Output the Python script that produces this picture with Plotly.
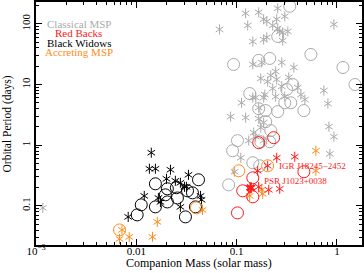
import plotly.graph_objects as go

# Classical MSP (gray)
msp_star_m = [0.257, 0.123, 0.166, 0.302, 0.186, 0.20, 0.251, 0.129, 0.229, 0.0676, 0.257, 0.269, 0.288, 0.324,
              0.145, 0.186, 0.20, 0.288, 0.933, 0.145, 0.178, 0.282, 0.372, 0.245, 0.219, 0.251, 0.204, 0.174,
              0.331, 0.229, 0.282, 0.407, 0.437, 0.479, 0.112, 0.145, 0.155, 0.191, 0.186, 0.245, 0.302, 0.166,
              0.0871, 0.123, 0.166, 0.186, 0.174, 0.741, 0.813, 0.832, 0.933, 0.851, 0.148, 0.155, 0.132, 0.110,
              0.0955, 0.00117, 0.186]
msp_star_p = [180, 149, 155, 133, 119, 110, 119, 94, 94, 81, 84, 75, 72, 75,
              51, 55, 60, 53, 98, 21.4, 23.1, 23.1, 19.1, 16.4, 14.1, 12.1, 11.2, 12.6,
              13.1, 8.6, 9.3, 8.9, 6.8, 5.65, 5.0, 6.1, 6.1, 6.8, 6.1, 6.3, 6.3, 4.17,
              2.96, 2.85, 2.74, 2.36, 1.95, 7.96, 4.85, 2.02, 1.38, 0.72, 1.61, 1.38, 1.19, 0.62,
              0.365, 0.0927, 1.19]
msp_circ_m = [0.339, 0.257, 0.55, 1.148, 1.514, 0.0933, 0.166, 0.214, 0.363, 0.316, 0.135, 0.302, 0.347,
              0.166, 0.195, 0.257, 0.468, 0.195, 0.219, 0.174, 0.214, 0.102, 0.0912, 0.145, 0.170, 0.0832]
msp_circ_p = [195, 62, 31.3, 19.1, 10, 21.4, 25, 26.9, 10, 8.3, 7.1, 5.0, 5.0,
              4.0, 3.72, 3.58, 3.72, 2.44, 1.74, 1.14, 1.14, 1.19, 0.81, 0.514, 0.458, 0.222]

# Red Backs
rb_star_m = [0.251, 0.380, 0.204, 0.162, 0.166, 0.209, 0.269]
rb_star_p = [0.62, 0.645, 0.458, 0.379, 0.206, 0.184, 0.191]
rb_circ_m = [0.166, 0.234, 0.145, 0.115, 0.145, 0.102, 0.468]
rb_circ_p = [1.10, 1.33, 0.29, 0.177, 0.141, 0.0766, 0.365]
psr_j1023_m = [0.138]
psr_j1023_p = [0.199]

# Black Widows
bw_star_m = [0.0141, 0.0135, 0.0155, 0.0219, 0.020, 0.0245, 0.0275, 0.0331, 0.0302, 0.012, 0.0166, 0.0174,
             0.0275, 0.0083, 0.0316, 0.0437, 0.0447]
bw_star_p = [0.752, 0.409, 0.409, 0.394, 0.279, 0.259, 0.24, 0.325, 0.206, 0.146, 0.135, 0.116,
             0.0962, 0.0658, 0.206, 0.146, 0.126]
bw_circ_m = [0.0155, 0.0204, 0.0251, 0.0324, 0.0195, 0.0257, 0.0204, 0.0112, 0.0155, 0.0102, 0.0309, 0.0417,
             0.0363, 0.0389]
bw_circ_p = [0.231, 0.191, 0.199, 0.177, 0.152, 0.135, 0.116, 0.104, 0.0962, 0.071, 0.0658, 0.269,
             0.164, 0.0962]

# Accreting MSP
acc_star_m = [0.617, 0.617, 0.135, 0.178, 0.182, 0.0457, 0.0162, 0.0085, 0.0068, 0.0145, 0.0072]
acc_star_p = [0.81, 0.379, 0.146, 0.184, 0.158, 0.0859, 0.0544, 0.0308, 0.0285, 0.0308, 0.0401]
acc_circ_m = [0.105, 0.204, 0.0398, 0.0068]
acc_circ_p = [0.379, 0.458, 0.0927, 0.0401]

legend_labels = ["Classical MSP", "Red Backs", "Black Widows", "Accreting MSP"]
x_tickvals = [0.001, 0.01, 0.1, 1]
x_ticktext = ["10<sup>\u22123</sup>", "0.01", "0.1", "1"]
y_tickvals = [0.1, 1, 10, 100]
y_ticktext = ["0.1", "1", "10", "100"]

GRAY = "#aaaaaa"
RED = "#ff1a1a"
BLACK = "#000000"
ORANGE = "#ff8c1a"

fig = go.Figure()

def circ(m, p, color):
    fig.add_trace(go.Scatter(x=m, y=p, mode="markers",
                             marker=dict(symbol="circle-open", size=12, color=color, line=dict(width=1, color=color)),
                             showlegend=False))

def star(m, p, color, size=6.3, width=1):
    # six-armed asterisk built from two Y-shaped symbols
    for sym in ("y-up-open", "y-down-open"):
        fig.add_trace(go.Scatter(x=m, y=p, mode="markers",
                                 marker=dict(symbol=sym, size=size, color=color, line=dict(width=width, color=color)),
                                 showlegend=False))

circ(msp_circ_m, msp_circ_p, GRAY)
star(msp_star_m, msp_star_p, GRAY)
circ(bw_circ_m, bw_circ_p, BLACK)
star(bw_star_m, bw_star_p, BLACK)
circ(acc_circ_m, acc_circ_p, ORANGE)
star(acc_star_m, acc_star_p, ORANGE)
circ(rb_circ_m, rb_circ_p, RED)
star(rb_star_m, rb_star_p, RED)
star(psr_j1023_m, psr_j1023_p, RED, size=6.8, width=2.4)

minor_x = [k * 10.0 ** e for e in range(-3, 1) for k in range(2, 10)]
minor_y = [k * 10.0 ** e for e in range(-2, 3) for k in range(2, 10)]

FONT = "Liberation Serif, Times New Roman, serif"

fig.update_xaxes(type="log", range=[-3, 0.25], tickvals=x_tickvals, ticktext=x_ticktext,
                 ticks="inside", ticklen=6, tickwidth=1, tickcolor="black", automargin=False,
                 ticklabelstandoff=-5,
                 minor=dict(tickvals=minor_x, ticks="inside", ticklen=3, tickcolor="black", showgrid=False),
                 showline=True, linecolor="black", linewidth=1.5, mirror="ticks", showgrid=False, zeroline=False,
                 tickfont=dict(size=11, family=FONT, color="black"))
fig.update_yaxes(type="log", range=[-1.645, 2.36], tickvals=y_tickvals, ticktext=y_ticktext,
                 ticks="inside", ticklen=6, tickwidth=1, tickcolor="black", tickangle=-90, automargin=False,
                 minor=dict(tickvals=minor_y, ticks="inside", ticklen=3, tickcolor="black", showgrid=False),
                 showline=True, linecolor="black", linewidth=1.5, mirror="ticks", showgrid=False, zeroline=False,
                 tickfont=dict(size=11, family=FONT, color="black"))

# axis titles
fig.add_annotation(text="Companion Mass (solar mass)", x=0.5, y=-0.076, xref="paper", yref="paper",
                   showarrow=False, xanchor="center", yanchor="middle",
                   font=dict(size=12, family=FONT, color="black"))
fig.add_annotation(text="Orbital Period (days)", x=-0.086, y=0.5, xref="paper", yref="paper",
                   showarrow=False, xanchor="center", yanchor="middle", textangle=-90,
                   font=dict(size=11.5, family=FONT, color="black"))

leg_colors = [GRAY, RED, BLACK, ORANGE]
leg_y = [0.909, 0.872, 0.833, 0.796]
for lab, col, yy in zip(legend_labels, leg_colors, leg_y):
    fig.add_annotation(text=lab, x=0.131, y=yy, xref="paper", yref="paper", showarrow=False,
                       xanchor="center", yanchor="middle", font=dict(size=11, family=FONT, color=col))

fig.add_annotation(text="IGR J18245\u22122452", x=-0.60, y=-0.339, xref="x", yref="y", showarrow=False,
                   xanchor="left", yanchor="middle", font=dict(size=9, family=FONT, color=RED))
fig.add_annotation(text="PSR J1023+0038", x=-0.75, y=-0.587, xref="x", yref="y", showarrow=False,
                   xanchor="left", yanchor="middle", font=dict(size=9, family=FONT, color=RED))

fig.update_layout(width=364, height=273, margin=dict(l=36, r=2, t=2, b=28),
                  paper_bgcolor="white", plot_bgcolor="white", font=dict(family=FONT))

fig.write_html("out.html", config={"displayModeBar": False},
               post_script="document.body.style.margin='0';document.body.style.overflow='hidden';")
